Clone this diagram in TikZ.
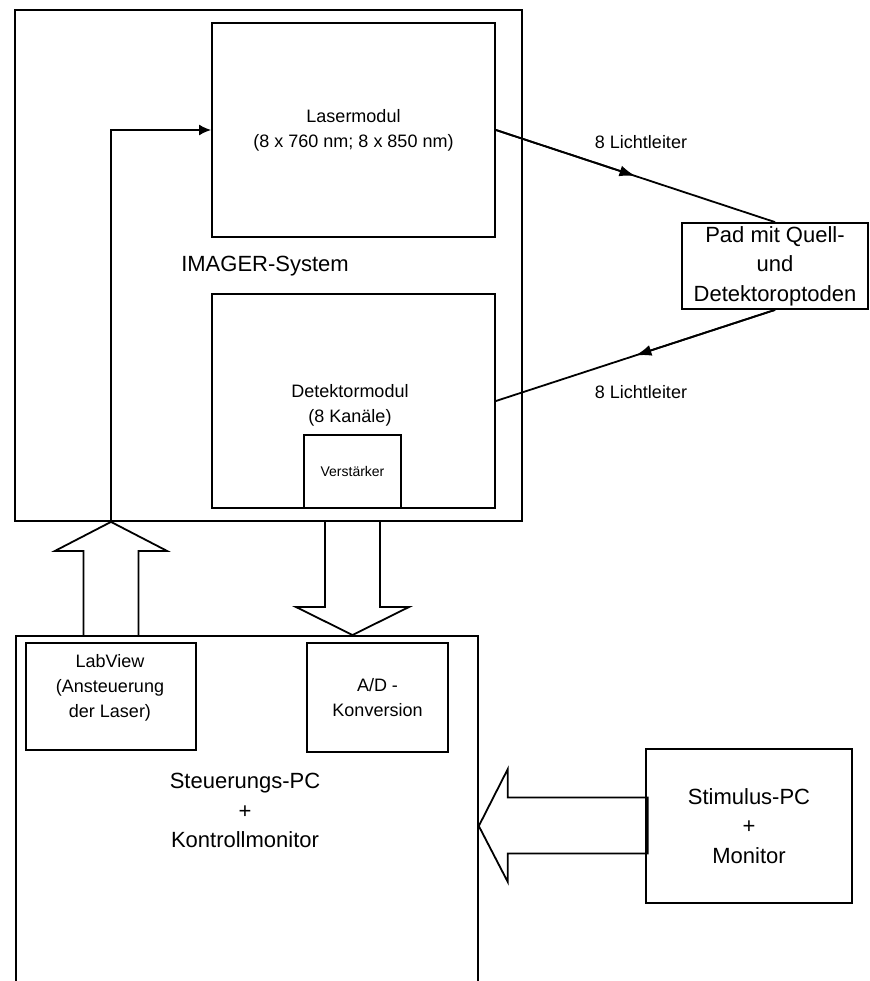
\documentclass[tikz,border=0pt]{standalone}
\usepackage{fontspec}
\setmainfont{Liberation Sans}
\usetikzlibrary{arrows.meta, positioning, calc}

\begin{document}
\begin{tikzpicture}[x=1pt, y=-1pt,
    big/.style={font=\fontsize{22}{29.5}\selectfont, align=center},
    mid/.style={font=\fontsize{18}{25}\selectfont, align=center},
    blk/.style={draw, line width=1.8pt, inner sep=0pt, mid},
    fat/.style={draw, line width=1.8pt, line join=miter},
    arrow/.style={-{Latex[length=12pt, width=11pt]}, line width=1.8pt},
    fibre/.style={-{Latex[length=16pt, width=11pt]}, line width=1.8pt}]
    \useasboundingbox (0,0) rectangle (869,981);
    \clip (0,0) rectangle (869,981);

    % IMAGER-System
    \node[blk, minimum width=507pt, minimum height=511pt] (imager) at (268.5,265.5) {};
    \node[big] (imagerlbl) at (265,266) {IMAGER-System};
    \node[blk, minimum width=283pt, minimum height=214pt] (laser) at (353.5,130)
        {Lasermodul\\(8 x 760 nm; 8 x 850 nm)};
    \node[blk, minimum width=283pt, minimum height=214pt] (det) at (353.5,401) {};
    \node[mid] (detlbl) at (350,405.5) {Detektormodul\\(8 Kanäle)};
    \node[blk, font=\fontsize{14}{17}\selectfont, minimum width=97pt, minimum height=73pt,
        anchor=south] (amp) at ([xshift=-1pt]det.south) {Verstärker};

    % Pad
    \node[blk, big, minimum width=186pt, minimum height=86pt] (pad) at (775,266)
        {Pad mit Quell-\\und\\Detektoroptoden};
    \node[mid] (fib1) at (641,142) {8 Lichtleiter};
    \node[mid] (fib2) at (641,392) {8 Lichtleiter};

    % Steuerungs-PC
    \node[blk, minimum width=462pt, minimum height=400pt, anchor=north west] (steuer) at (15,635) {};
    \node[big] (steuerlbl) at (245,810.5) {Steuerungs-PC\\+\\Kontrollmonitor};
    \node[blk, minimum width=170pt, minimum height=107pt] (lv) at (111,696.5) {};
    \node[mid] (lvlbl) at (110,688) {LabView\\(Ansteuerung\\der Laser)};
    \node[blk, minimum width=141pt, minimum height=109pt] (ad) at (377.5,697.5) {A/D -\\Konversion};

    % Stimulus-PC
    \node[blk, big, minimum width=206pt, minimum height=154pt] (stim) at (749,826)
        {Stimulus-PC\\+\\Monitor};

    \coordinate (uptip) at (lv.north |- imager.south);
    \coordinate (dntip) at (amp.south |- steuer.north);
    \coordinate (lftip) at (steuer.east |- stim.west);
    \coordinate (m1) at ($(laser.east)!0.5!(pad.north)$);
    \coordinate (m2) at ($(pad.south)!0.5!(det.east)$);

    % fat arrows
    \draw[fat] (uptip) -- ++(56,29) -- ++(-28.5,0) -- ++(0,85) -- ++(-55,0) -- ++(0,-85) -- ++(-28.5,0) -- cycle;
    \draw[fat] (dntip) -- ++(56.5,-28) -- ++(-29,0) -- ++(0,-86) -- ++(-55,0) -- ++(0,86) -- ++(-29,0) -- cycle;
    \draw[fat] (lftip) -- ++(29,-57) -- ++(0,28.5) -- ++(140,0) -- ++(0,56) -- ++(-140,0) -- ++(0,28.5) -- cycle;

    \draw[arrow] (uptip) |- (laser.west);
    \draw[line width=1.8pt] (laser.east) -- (pad.north);
    \draw[fibre] (laser.east) -- (m1);
    \draw[line width=1.8pt] (pad.south) -- (det.east);
    \draw[fibre] (pad.south) -- (m2);
\end{tikzpicture}
\end{document}
